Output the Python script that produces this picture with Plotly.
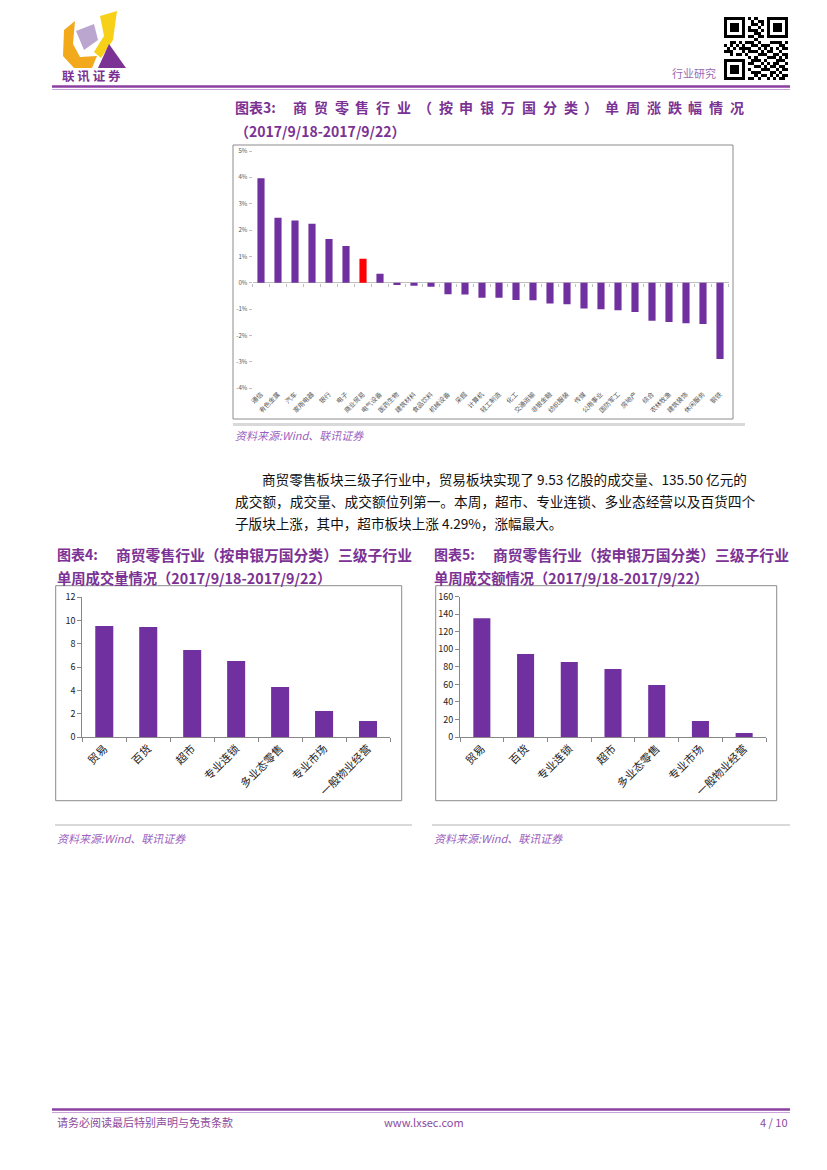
import plotly.graph_objects as go

W, H = 827, 1170
def px(x): return x / W
def py(y): return 1 - y / H

# ---------------- data ----------------
industries = ["通信", "有色金属", "汽车", "家用电器", "银行", "电子", "商业贸易", "电气设备",
              "医药生物", "建筑材料", "食品饮料", "机械设备", "采掘", "计算机", "轻工制造", "化工",
              "交通运输", "非银金融", "纺织服装", "传媒", "公用事业", "国防军工", "房地产", "综合",
              "农林牧渔", "建筑装饰", "休闲服务", "钢铁"]
changes = [3.97, 2.47, 2.36, 2.24, 1.66, 1.40, 0.91, 0.34,
           -0.08, -0.11, -0.15, -0.43, -0.44, -0.57, -0.57, -0.65,
           -0.66, -0.78, -0.81, -0.97, -1.00, -1.04, -1.11, -1.44,
           -1.49, -1.53, -1.56, -2.89]
highlight = "商业贸易"

vol_cats = ["贸易", "百货", "超市", "专业连锁", "多业态零售", "专业市场", "一般物业经营"]
vol_vals = [9.53, 9.45, 7.47, 6.53, 4.30, 2.23, 1.37]

amt_cats = ["贸易", "百货", "专业连锁", "超市", "多业态零售", "专业市场", "一般物业经营"]
amt_vals = [135.50, 94.6, 85.5, 77.5, 59.3, 18.2, 4.6]

pct_ticks = [5, 4, 3, 2, 1, 0, -1, -2, -3, -4]
vol_ticks = [0, 2, 4, 6, 8, 10, 12]
amt_ticks = [0, 20, 40, 60, 80, 100, 120, 140, 160]

# ---------------- styles ----------------
FONT = "Noto Sans CJK SC"
PURPLE = "#7030A0"
RED = "#FF0000"
TITLE_C = "#7B3294"
SRC_C = "#9B5FC0"

fig = go.Figure()

# Chart 3
fig.add_trace(go.Bar(x=industries, y=changes, xaxis="x", yaxis="y", width=0.42,
                     marker=dict(color=[RED if c == highlight else PURPLE for c in industries], line_width=0),
                     showlegend=False, hoverinfo="x+y"))
fig.add_trace(go.Scatter(x=industries, y=[0] * len(industries), xaxis="x4", yaxis="y",
                         mode="markers", marker=dict(opacity=0), showlegend=False, hoverinfo="skip"))
# Chart 4
fig.add_trace(go.Bar(x=vol_cats, y=vol_vals, xaxis="x2", yaxis="y2", width=0.41,
                     marker=dict(color=PURPLE, line_width=0), showlegend=False))
# Chart 5
fig.add_trace(go.Bar(x=amt_cats, y=amt_vals, xaxis="x3", yaxis="y3", width=0.39,
                     marker=dict(color=PURPLE, line_width=0), showlegend=False))

# QR-like decoration
qr_rows = [
    "101100111010011010110", "010011010101100101001", "110101100110101011010",
    "001110011001010110101", "101001101110100101100", "011010010011011010011",
    "100111001101100110101", "110010110010011001010", "001101011101000111101",
    "101010100110111000110", "010101111001010101011", "111000101110101100100",
    "001011010001110011011", "100110101010001110101", "011001010111010001110",
    "110110001100101011001", "001001110011010110110", "101110011000111001011",
    "010011100111000110100", "111100010010110101011", "000111101101001010110",
]
qr = [[int(ch) for ch in r] for r in qr_rows]
n = len(qr)
def finder(r0, c0):
    for i in range(-1, 8):
        for j in range(-1, 8):
            r, c = r0 + i, c0 + j
            if 0 <= r < n and 0 <= c < n:
                qr[r][c] = 0
    for i in range(7):
        for j in range(7):
            edge = i in (0, 6) or j in (0, 6)
            core = 2 <= i <= 4 and 2 <= j <= 4
            qr[r0 + i][c0 + j] = 1 if (edge or core) else 0
finder(0, 0); finder(0, n - 7); finder(n - 7, 0)
fig.add_trace(go.Heatmap(z=qr, xaxis="x5", yaxis="y5", colorscale=[[0, "white"], [1, "black"]],
                         showscale=False, hoverinfo="skip"))

axis_font = dict(family=FONT, size=6, color="#555")
fig.update_layout(
    width=W, height=H, margin=dict(l=0, r=0, t=0, b=0, autoexpand=False),
    paper_bgcolor="white", plot_bgcolor="white",
    font=dict(family=FONT, color="#222"),
    xaxis=dict(domain=[px(252.5), px(728.5)], anchor="y", type="category",
               categoryorder="array", categoryarray=industries, range=[-0.5, len(industries) - 0.5],
               tickangle=-45, tickfont=dict(family=FONT, size=6.5, color="#555"),
               showline=False, ticks="", showgrid=False, fixedrange=True),
    xaxis4=dict(overlaying="x", anchor="free", position=py(282.7), type="category",
                categoryorder="array", categoryarray=industries, range=[-0.5, len(industries) - 0.5],
                showticklabels=False, ticks="outside", tickson="boundaries", ticklen=3,
                tickcolor="#bfbfbf", showline=False, showgrid=False, fixedrange=True),
    yaxis=dict(domain=[py(388.3), py(151)], anchor="x", range=[-4, 5], tickvals=pct_ticks,
               ticktext=[f"{v}%" for v in pct_ticks], tickfont=axis_font,
               showgrid=False, zeroline=True, zerolinecolor="#bfbfbf", zerolinewidth=1,
               ticks="outside", ticklen=3, tickcolor="#bfbfbf", showline=False, fixedrange=True),
    xaxis2=dict(domain=[px(82.3), px(390)], anchor="y2", type="category",
                tickangle=-45, tickfont=dict(family=FONT, size=11, color="#222"),
                showline=True, linecolor="#888", linewidth=1, ticks="outside",
                tickson="boundaries", ticklen=4, tickcolor="#888", showgrid=False, fixedrange=True),
    yaxis2=dict(domain=[py(737), py(597.3)], anchor="x2", range=[0, 12], tickvals=vol_ticks,
                tickfont=dict(family=FONT, size=9, color="#222"),
                showline=True, linecolor="#888", ticks="outside", ticklen=4, tickcolor="#888",
                showgrid=False, zeroline=False, fixedrange=True),
    xaxis3=dict(domain=[px(460), px(766)], anchor="y3", type="category",
                tickangle=-45, tickfont=dict(family=FONT, size=11, color="#222"),
                showline=True, linecolor="#888", linewidth=1, ticks="outside",
                tickson="boundaries", ticklen=4, tickcolor="#888", showgrid=False, fixedrange=True),
    yaxis3=dict(domain=[py(737), py(596.7)], anchor="x3", range=[0, 160], tickvals=amt_ticks,
                tickfont=dict(family=FONT, size=9, color="#222"),
                showline=True, linecolor="#888", ticks="outside", ticklen=4, tickcolor="#888",
                showgrid=False, zeroline=False, fixedrange=True),
    xaxis5=dict(domain=[px(724), px(788)], anchor="y5", visible=False, fixedrange=True),
    yaxis5=dict(domain=[py(80), py(17)], anchor="x5", visible=False, autorange="reversed", fixedrange=True),
)

shapes = []
def rect(x0, y0, x1, y1, color="#888", width=1, fill=None):
    shapes.append(dict(type="rect", xref="paper", yref="paper", x0=px(x0), x1=px(x1),
                       y0=py(y1), y1=py(y0), line=dict(color=color, width=width),
                       fillcolor=fill, layer="below"))
def hline(x0, x1, y, color, width):
    shapes.append(dict(type="line", xref="paper", yref="paper", x0=px(x0), x1=px(x1),
                       y0=py(y), y1=py(y), line=dict(color=color, width=width)))
def poly(pts, color):
    path = "M " + " L ".join(f"{px(x):.5f},{py(y):.5f}" for x, y in pts) + " Z"
    shapes.append(dict(type="path", xref="paper", yref="paper", path=path,
                       fillcolor=color, line=dict(width=0)))

# header & footer lines
hline(52, 790, 86.5, "#8B3FA0", 2.5)
hline(52, 790, 89.5, "#C9A3DA", 1.2)
hline(52, 790, 1109.5, "#8B3FA0", 2.5)
hline(52, 790, 1112.5, "#C9A3DA", 1.2)

# chart frames
rect(233, 145, 733, 419, "#8c8c8c", 1)
hline(233, 745, 424.5, "#d9d9d9", 3)
rect(55.7, 585.7, 401.7, 800.7, "#8c8c8c", 1)
rect(435.7, 585.7, 776.7, 800.7, "#8c8c8c", 1)
hline(55, 412, 825, "#d9d9d9", 2)
hline(432, 790, 825, "#d9d9d9", 2)

# logo
poly([(64, 30), (75, 21), (73, 44), (80, 57), (97, 56), (92, 68), (74, 68), (63, 56)], "#F2A91C")
poly([(100, 16), (117, 11), (113, 40), (101, 58), (94, 52), (104, 36)], "#F7D117")
poly([(76, 31), (94, 24), (98, 40), (84, 50)], "#BBA6CF")
poly([(109, 44), (126, 68), (98, 68)], "#7B3294")
fig.update_layout(shapes=shapes)

ann = []
def text(x, y, s, size=12, color="#222", anchor="left", bold=False, italic=False):
    if bold:
        s = f"<b>{s}</b>"
    if italic:
        s = f"<i>{s}</i>"
    ann.append(dict(x=px(x), y=py(y), xref="paper", yref="paper", text=s, showarrow=False,
                    xanchor=anchor, yanchor="middle",
                    font=dict(family=FONT, size=size, color=color)))

text(60, 75, "联 讯 证 券", 12.5, "#7B3294", bold=True)
text(718, 73, "行业研究", 11, "#9A6BB3", anchor="right")

# chart 3 title (justified)
text(233, 107, "图表3:", 14, TITLE_C, bold=True)
title_chars = list("商贸零售行业（按申银万国分类）单周涨跌幅情况")
for i, ch in enumerate(title_chars):
    text(300 + i * (737 - 300) / (len(title_chars) - 1), 107, ch, 14, TITLE_C, anchor="center", bold=True)
text(233, 131, "（2017/9/18-2017/9/22）", 14, TITLE_C, bold=True)
text(233, 435, "资料来源:Wind、联讯证券", 11, SRC_C, italic=True)

# paragraph
text(260, 479, "商贸零售板块三级子行业中，贸易板块实现了 9.53 亿股的成交量、135.50 亿元的", 13.6, "#111")
text(233, 501, "成交额，成交量、成交额位列第一。本周，超市、专业连锁、多业态经营以及百货四个", 13.7, "#111")
text(233, 523, "子版块上涨，其中，超市板块上涨 4.29%，涨幅最大。", 13.6, "#111")

# charts 4/5 titles
text(55, 554, "图表4:", 14, TITLE_C, bold=True)
text(114, 554, "商贸零售行业（按申银万国分类）三级子行业", 14.8, TITLE_C, bold=True)
text(55, 577, "单周成交量情况（2017/9/18-2017/9/22）", 14.3, TITLE_C, bold=True)
text(432, 554, "图表5:", 14, TITLE_C, bold=True)
text(491, 554, "商贸零售行业（按申银万国分类）三级子行业", 14.8, TITLE_C, bold=True)
text(432, 577, "单周成交额情况（2017/9/18-2017/9/22）", 14.3, TITLE_C, bold=True)
text(55, 838, "资料来源:Wind、联讯证券", 11, SRC_C, italic=True)
text(432, 838, "资料来源:Wind、联讯证券", 11, SRC_C, italic=True)

# footer
text(55, 1122, "请务必阅读最后特别声明与免责条款", 11, "#8B4A9C")
text(424, 1122, "www.lxsec.com", 11, "#8B4A9C", anchor="center")
text(790, 1122, "4 / 10", 11, "#8B4A9C", anchor="right")

fig.update_layout(annotations=ann)
fig.write_html("out.html", config={"displayModeBar": False},
               post_script="document.body.style.margin='0';document.body.style.overflow='hidden';")
